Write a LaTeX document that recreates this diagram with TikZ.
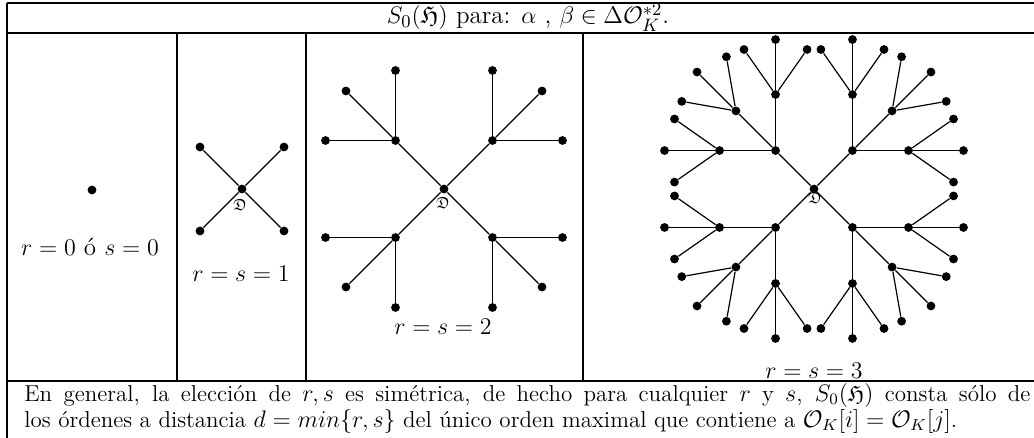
\documentclass[tikz,border=0pt]{standalone}
\usepackage{amsmath}
\usepackage{amsfonts}
\usepackage{amssymb}
\usepackage{tikz}

\tikzset{
  punto/.style={circle,fill=black,inner sep=0pt,minimum size=4.4pt},
  rama/.style={line width=0.6pt},
  borde/.style={line width=0.9pt},
  etiq/.style={font=\fontsize{12.5}{15}\selectfont,anchor=base,inner sep=0pt}
}

\begin{document}
\begin{tikzpicture}[x=0.5pt,y=-0.5pt]
  \useasboundingbox (0,0) rectangle (1034,438);
  % cabecera
  \node[etiq] (titulo) at (528,24) {$S_0(\mathfrak{H})$ para: $\alpha$ , $\beta\in\Delta\mathcal{O}_K^{*2}$.};
  % r=0
  \node[punto] (c0) at (92,190) {};
  \node[etiq] (e0) at (90,256) {$r=0$ ó $s=0$};
  % r=s=1
  \node[punto] (c1) at (242,189) {};
  \foreach \a in {45,135,225,315} {
    \path (c1) ++(\a:59.4) node[punto] (c1-\a) {};
    \draw[rama] (c1)--(c1-\a);
  }
  \node[font=\footnotesize,inner sep=0pt] (d1) at (240,205) {$\mathfrak{D}$};
  \node[etiq] (e1) at (241,282) {$r=s=1$};
  % r=s=2
  \node[punto] (c2) at (444,189) {};
  \foreach \a in {45,135,225,315} {
    \path (c2) ++(\a:68.6) node[punto] (c2-\a) {};
    \draw[rama] (c2)--(c2-\a);
    \foreach \b/\db in {1/-45,2/0,3/45} {
      \path (c2-\a) ++({\a+\db}:70) node[punto] (c2-\a-\b) {};
      \draw[rama] (c2-\a)--(c2-\a-\b);
    }
  }
  \node[font=\footnotesize,inner sep=0pt] (d2) at (443,203) {$\mathfrak{D}$};
  \node[etiq] (e2) at (443,335) {$r=s=2$};
  % r=s=3
  \node[punto] (c3) at (814,189) {};
  \foreach \a in {45,135,225,315} {
    \path (c3) ++(\a:54.4) node[punto] (c3-\a) {};
    \draw[rama] (c3)--(c3-\a);
    \foreach \b/\db in {1/-45,2/0,3/45} {
      \path (c3-\a) ++({\a+\db}:56) node[punto] (c3-\a-\b) {};
      \draw[rama] (c3-\a)--(c3-\a-\b);
      \foreach \c/\dc in {1/-35,2/0,3/35} {
        \path (c3-\a-\b) ++({\a+\db+\dc}:55) node[punto] (c3-\a-\b-\c) {};
        \draw[rama] (c3-\a-\b)--(c3-\a-\b-\c);
      }
    }
  }
  \node[font=\footnotesize,inner sep=0pt] (d3) at (815,198) {$\mathfrak{D}$};
  \node[etiq] (e3) at (814,379) {$r=s=3$};
  % tabla
  \draw[borde] (7,3)--(1034,3); \draw[borde] (7,33)--(1034,33);
  \draw[borde] (7,381)--(1034,381); \draw[borde] (7,3)--(7,438);
  \foreach \x in {177,306,583} \draw[borde] (\x,33)--(\x,381);
  % nota
  \node[anchor=base west,inner sep=0pt,text width=503pt,align=justify,
    font=\fontsize{11.5}{10.75}\selectfont] (nota) at (24,401)
    {\parfillskip=0pt En general, la elección de $r,s$ es simétrica, de hecho para cualquier $r$ y $s$, $S_0(\mathfrak{H})$ consta sólo de\linebreak
     los órdenes a distancia $d=min\{r,s\}$ del único orden maximal que contiene a $\mathcal{O}_K[i]=\mathcal{O}_K[j]$.};
\end{tikzpicture}
\end{document}
